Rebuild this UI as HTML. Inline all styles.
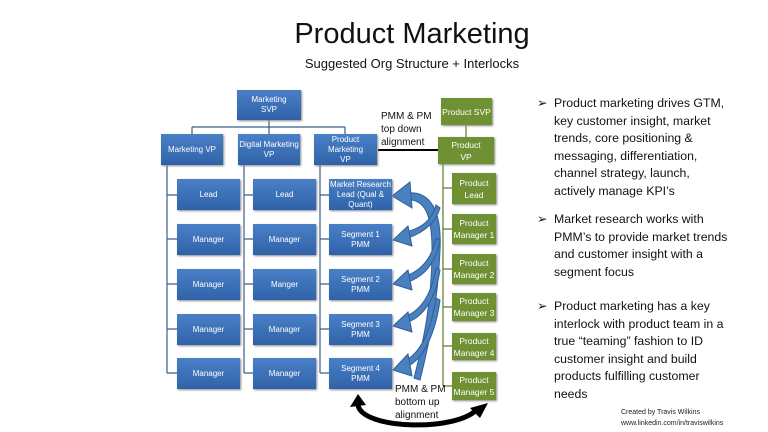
<!DOCTYPE html>
<html><head><style>
body{margin:0;width:768px;height:432px;background:#fff;position:relative;overflow:hidden;font-family:"Liberation Sans",sans-serif}
.a{position:absolute}
.b{position:absolute;background:linear-gradient(#4a80c8,#2f62a8);color:#fff;font-size:8px;line-height:10px;display:flex;align-items:center;justify-content:center;text-align:center;box-shadow:1px 1px 2px #888}
.g{position:absolute;background:#6f9133;color:#fff;font-size:8.5px;line-height:12px;display:flex;align-items:center;justify-content:center;text-align:center;box-shadow:1px 1px 2px #888}
.t{position:absolute;left:537px;font-size:12.3px;line-height:17.5px;color:#111;width:230px}
.t span{position:absolute;left:0}
.t div{margin-left:17px;width:212px;white-space:nowrap}
.s{position:absolute;font-size:10px;line-height:13px;color:#111}
</style></head><body>
<div class="a" style="left:0;width:824px;top:18px;text-align:center;font-size:29px;color:#111">Product Marketing</div>
<div class="a" style="left:0;width:824px;top:56px;text-align:center;font-size:13px;color:#111">Suggested Org Structure + Interlocks</div>
<svg class="a" style="left:0;top:0" width="768" height="432">
<g stroke="#3a5f8a" stroke-width="1.2" fill="none">
<path d="M269 120V127M192 127H345M192 127V134M269 127V134M345 127V134"/>
<path d="M167 165V373M167 195H177M167 239H177M167 284H177M167 329H177M167 373H177"/>
<path d="M244 165V373M244 195H253M244 239H253M244 284H253M244 329H253M244 373H253"/>
<path d="M320 165V373M320 195H329M320 239H329M320 284H329M320 329H329M320 373H329"/>
</g>
<g stroke="#5d7a2b" stroke-width="1.2" fill="none">
<path d="M466 125V137M443 164V386M443 188H452M443 229H452M443 269H452M443 307H452M443 346H452M443 386H452"/>
</g>
<line x1="378" y1="150" x2="438" y2="150" stroke="#000" stroke-width="2"/>
<g fill="#4a7fc0" stroke="#2f5f99" stroke-width="1">
<path d="M406 193 C430 190 442 210 440 250 C438 300 430 340 420 380 L414 378 C424 340 432 300 432 250 C432 215 425 198 406 200Z"/>
<polygon points="392,196 410,182 412,208"/>
<path d="M408 238 C425 232 436 222 440 208 L436 205 C432 220 422 228 406 232Z"/>
<polygon points="393,240 408,226 412,246"/>
<path d="M408 282 C425 276 436 262 440 240 L436 238 C432 258 422 270 406 276Z"/>
<polygon points="393,284 408,270 412,290"/>
<path d="M408 322 C425 316 436 296 440 270 L436 268 C432 292 422 310 406 316Z"/>
<polygon points="393,326 408,312 412,332"/>
<path d="M408 366 C425 358 436 330 440 300 L436 298 C432 326 422 352 406 360Z"/>
<polygon points="393,370 408,354 412,376"/>
</g>
<path d="M358 405 C362 430 460 432 478 408" stroke="#000" stroke-width="5" fill="none"/>
<polygon points="350,407 358,394 366,405" fill="#000"/>
<polygon points="470,408 488,403 480,418" fill="#000"/>
</svg>
<div class="b" style="left:237px;top:90px;width:64px;height:30px">Marketing<br>SVP</div>
<div class="b" style="left:161px;top:134px;width:62px;height:31px">Marketing VP</div>
<div class="b" style="left:238px;top:134px;width:62px;height:31px">Digital Marketing<br>VP</div>
<div class="b" style="left:314px;top:134px;width:63px;height:31px">Product<br>Marketing<br>VP</div>
<div class="b" style="left:177px;top:179px;width:63px;height:31px">Lead</div>
<div class="b" style="left:253px;top:179px;width:63px;height:31px">Lead</div>
<div class="b" style="left:329px;top:179px;width:63px;height:31px">Market Research Lead (Qual &amp; Quant)</div>
<div class="b" style="left:177px;top:224px;width:63px;height:31px">Manager</div>
<div class="b" style="left:253px;top:224px;width:63px;height:31px">Manager</div>
<div class="b" style="left:329px;top:224px;width:63px;height:31px">Segment 1<br>PMM</div>
<div class="b" style="left:177px;top:269px;width:63px;height:31px">Manager</div>
<div class="b" style="left:253px;top:269px;width:63px;height:31px">Manger</div>
<div class="b" style="left:329px;top:269px;width:63px;height:31px">Segment 2<br>PMM</div>
<div class="b" style="left:177px;top:314px;width:63px;height:31px">Manager</div>
<div class="b" style="left:253px;top:314px;width:63px;height:31px">Manager</div>
<div class="b" style="left:329px;top:314px;width:63px;height:31px">Segment 3<br>PMM</div>
<div class="b" style="left:177px;top:358px;width:63px;height:31px">Manager</div>
<div class="b" style="left:253px;top:358px;width:63px;height:31px">Manager</div>
<div class="b" style="left:329px;top:358px;width:63px;height:31px">Segment 4<br>PMM</div>
<div class="g" style="left:441px;top:98px;width:51px;height:27px">Product SVP</div>
<div class="g" style="left:438px;top:137px;width:56px;height:27px">Product<br>VP</div>
<div class="g" style="left:452px;top:173px;width:44px;height:31px">Product<br>Lead</div>
<div class="g" style="left:452px;top:214px;width:44px;height:30px">Product<br>Manager 1</div>
<div class="g" style="left:452px;top:254px;width:44px;height:30px">Product<br>Manager 2</div>
<div class="g" style="left:452px;top:293px;width:44px;height:28px">Product<br>Manager 3</div>
<div class="g" style="left:452px;top:333px;width:44px;height:27px">Product<br>Manager 4</div>
<div class="g" style="left:452px;top:372px;width:44px;height:28px">Product<br>Manager 5</div>
<div class="s" style="left:381px;top:110px">PMM &amp; PM<br>top down<br>alignment</div>
<div class="s" style="left:395px;top:383px">PMM &amp; PM<br>bottom up<br>alignment</div>
<div class="t" style="top:95px"><span>➢</span><div>Product marketing drives GTM,<br>key customer insight, market<br>trends, core positioning &amp;<br>messaging, differentiation,<br>channel strategy, launch,<br>actively manage KPI’s</div></div>
<div class="t" style="top:211px"><span>➢</span><div>Market research works with<br>PMM’s to provide market trends<br>and customer insight with a<br>segment focus</div></div>
<div class="t" style="top:298px"><span>➢</span><div>Product marketing has a key<br>interlock with product team in a<br>true “teaming” fashion to ID<br>customer insight and build<br>products fulfilling customer<br>needs</div></div>
<div class="a" style="left:621px;top:407px;font-size:7px;line-height:11px;color:#222">Created by Travis Wilkins<br>www.linkedin.com/in/traviswilkins</div>
</body></html>
